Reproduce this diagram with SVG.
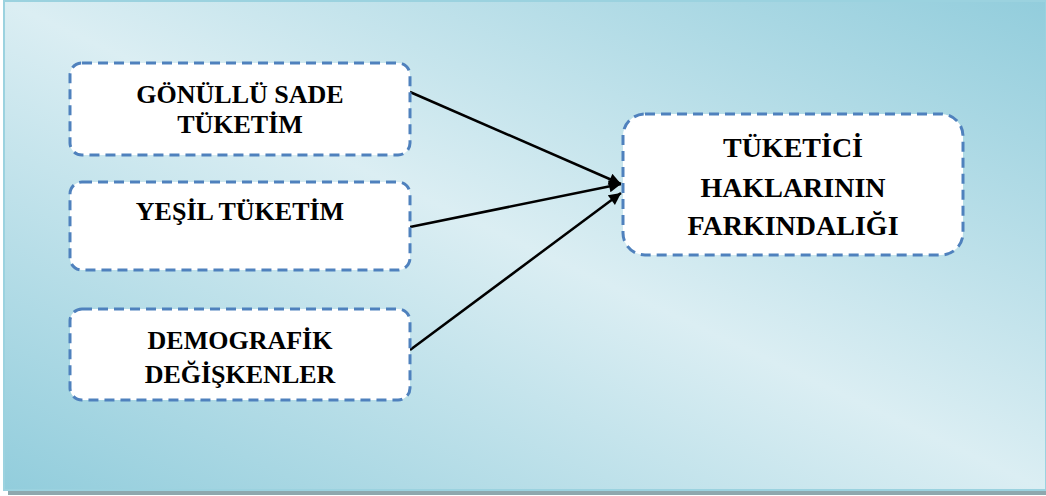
<svg xmlns="http://www.w3.org/2000/svg" width="1046" height="496" viewBox="0 0 1046 496">
<defs>
<linearGradient id="bg" x1="1" y1="0" x2="0" y2="1">
<stop offset="0" stop-color="#92cddc"/>
<stop offset="0.5" stop-color="#dbeef3"/>
<stop offset="1" stop-color="#92cddc"/>
</linearGradient>
<marker id="arr" viewBox="0 0 10 10" refX="10" refY="5" markerWidth="16" markerHeight="12" markerUnits="userSpaceOnUse" orient="auto">
<path d="M0,0 L10,5 L0,10 z" fill="#000"/>
</marker>
<style>
.box{fill:#fff;stroke:#4f81bd;stroke-width:3;stroke-dasharray:10 6}
.t{font-family:'Liberation Serif',serif;font-weight:bold;font-size:26px;fill:#000;text-anchor:middle}
.big{font-size:28px}
.c{stroke:#000;stroke-width:2.5;fill:none;marker-end:url(#arr)}
</style>
</defs>
<rect x="8" y="488" width="1038" height="7" fill="#8ea8ae"/>
<rect x="4" y="1" width="1042" height="489" fill="url(#bg)" stroke="#9bd2df" stroke-width="2"/>
<g id="connectors">
<line class="c" x1="410" y1="92" x2="621" y2="184"/>
<line class="c" x1="410" y1="227" x2="621" y2="184"/>
<line class="c" x1="410" y1="350" x2="621" y2="193"/>
</g>
<g id="n1">
<rect class="box" x="70" y="63" width="340" height="92" rx="12"/>
<text class="t" x="240" y="103" font-family="Liberation Serif">GÖNÜLLÜ SADE</text>
<text class="t" x="240" y="133" font-family="Liberation Serif">TÜKETİM</text>
</g>
<g id="n2">
<rect class="box" x="70" y="182" width="340" height="88" rx="12"/>
<text class="t" x="240" y="220" font-family="Liberation Serif">YEŞİL TÜKETİM</text>
</g>
<g id="n3">
<rect class="box" x="70" y="309" width="340" height="91" rx="12"/>
<text class="t" x="240" y="349" font-family="Liberation Serif">DEMOGRAFİK</text>
<text class="t" x="240" y="383" font-family="Liberation Serif">DEĞİŞKENLER</text>
</g>
<g id="n4">
<rect class="box" x="623" y="114" width="340" height="141" rx="22"/>
<text class="t big" x="793" y="157" font-family="Liberation Serif">TÜKETİCİ</text>
<text class="t big" x="793" y="197" font-family="Liberation Serif">HAKLARININ</text>
<text class="t big" x="793" y="235" font-family="Liberation Serif">FARKINDALIĞI</text>
</g>
</svg>
